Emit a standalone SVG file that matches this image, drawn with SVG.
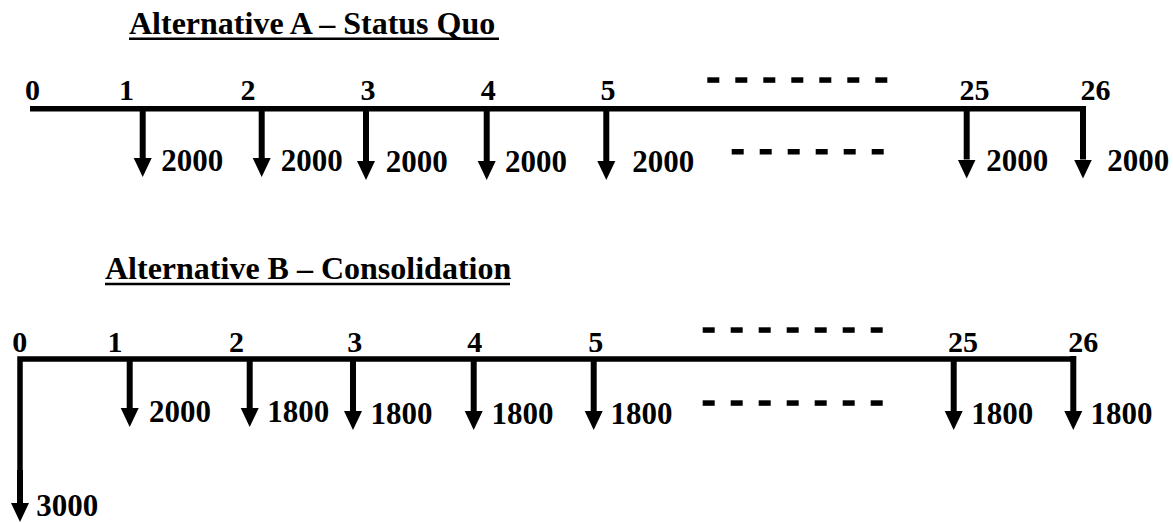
<svg xmlns="http://www.w3.org/2000/svg" width="1173" height="523" viewBox="0 0 1173 523">
  <style>
    text { font-family: "Liberation Serif", "Times New Roman", serif; font-weight: bold; fill: #000; }
    .title { font-size: 32px; }
    .tick { font-size: 30px; }
    .amt { font-size: 31px; }
    .axis { fill: none; stroke: #000; stroke-width: 5.5; stroke-linejoin: miter; }
    .drop { stroke: #000; stroke-width: 6; marker-end: url(#head); }
    .rule { stroke: #000; stroke-width: 2.6; }
    .dash { fill: #000; }
  </style>
  <defs>
    <marker id="head" markerUnits="userSpaceOnUse" markerWidth="20" markerHeight="20" viewBox="0 -10 20 20" refX="0" refY="0" orient="auto">
      <path d="M0,-9 L19,0 L0,9 Z" fill="#000"/>
    </marker>
    <rect id="d" width="12" height="5.5"/>
  </defs>

  <rect width="1173" height="523" fill="#fff"/>

  <!-- Alternative A: status quo -->
  <g id="alt-a">
    <g id="a-title">
      <text class="title" x="129" y="34">Alternative A – Status Quo</text>
      <line class="rule" x1="129" y1="38.7" x2="499" y2="38.7"/>
    </g>
    <g id="a-connectors">
      <path class="axis" d="M30,108.8 H1083 V112"/>
      <line class="drop" x1="142.7" y1="108.8" x2="142.7" y2="158"/>
      <line class="drop" x1="261.7" y1="108.8" x2="261.7" y2="158"/>
      <line class="drop" x1="366" y1="108.8" x2="366" y2="161"/>
      <line class="drop" x1="486.7" y1="108.8" x2="486.7" y2="161"/>
      <line class="drop" x1="606.3" y1="108.8" x2="606.3" y2="161"/>
      <line class="drop" x1="966.7" y1="108.8" x2="966.7" y2="159.5"/>
      <line class="drop" x1="1083" y1="106" x2="1083" y2="159.5"/>
    </g>
    <g id="a-t0"><text class="tick" x="25" y="100">0</text></g>
    <g id="a-t1"><text class="tick" x="119" y="100">1</text><text class="amt" x="161.3" y="171">2000</text></g>
    <g id="a-t2"><text class="tick" x="240.5" y="100">2</text><text class="amt" x="280.7" y="171">2000</text></g>
    <g id="a-t3"><text class="tick" x="360.5" y="100">3</text><text class="amt" x="385.7" y="172">2000</text></g>
    <g id="a-t4"><text class="tick" x="480.7" y="100">4</text><text class="amt" x="505" y="172">2000</text></g>
    <g id="a-t5"><text class="tick" x="600.5" y="100">5</text><text class="amt" x="632.3" y="172">2000</text></g>
    <g id="a-t25"><text class="tick" x="959.5" y="100">25</text><text class="amt" x="986.3" y="171">2000</text></g>
    <g id="a-t26"><text class="tick" x="1080.5" y="100">26</text><text class="amt" x="1107.3" y="171">2000</text></g>
    <g id="a-gap" class="dash">
      <use href="#d" x="707.3" y="77.3"/><use href="#d" x="735.3" y="77.3"/><use href="#d" x="763.3" y="77.3"/>
      <use href="#d" x="791.3" y="77.3"/><use href="#d" x="819.3" y="77.3"/><use href="#d" x="847.3" y="77.3"/>
      <use href="#d" x="875.3" y="77.3"/>
      <use href="#d" x="731.7" y="149"/><use href="#d" x="759.7" y="149"/><use href="#d" x="787.7" y="149"/>
      <use href="#d" x="815.7" y="149"/><use href="#d" x="843.7" y="149"/><use href="#d" x="871.7" y="149"/>
    </g>
  </g>

  <!-- Alternative B: consolidation -->
  <g id="alt-b">
    <g id="b-title">
      <text class="title" x="105" y="279.3">Alternative B – Consolidation</text>
      <line class="rule" x1="105" y1="284" x2="510" y2="284"/>
    </g>
    <g id="b-connectors">
      <path class="axis" d="M20,503 V359 H1073.3 V362"/>
      <line class="drop" x1="20" y1="470" x2="20" y2="503"/>
      <line class="drop" x1="129.7" y1="359" x2="129.7" y2="408"/>
      <line class="drop" x1="249.7" y1="359" x2="249.7" y2="408"/>
      <line class="drop" x1="353" y1="359" x2="353" y2="411"/>
      <line class="drop" x1="473.7" y1="359" x2="473.7" y2="411"/>
      <line class="drop" x1="593.7" y1="359" x2="593.7" y2="411"/>
      <line class="drop" x1="953.7" y1="359" x2="953.7" y2="411"/>
      <line class="drop" x1="1073.3" y1="356" x2="1073.3" y2="411"/>
    </g>
    <g id="b-t0"><text class="tick" x="12.3" y="351.7">0</text><text class="amt" x="36.3" y="516">3000</text></g>
    <g id="b-t1"><text class="tick" x="107.5" y="351.7">1</text><text class="amt" x="149" y="422">2000</text></g>
    <g id="b-t2"><text class="tick" x="229" y="351.7">2</text><text class="amt" x="267.3" y="422">1800</text></g>
    <g id="b-t3"><text class="tick" x="347.3" y="351.7">3</text><text class="amt" x="370.6" y="423.5">1800</text></g>
    <g id="b-t4"><text class="tick" x="467.3" y="351.7">4</text><text class="amt" x="491.6" y="423.5">1800</text></g>
    <g id="b-t5"><text class="tick" x="588.3" y="351.7">5</text><text class="amt" x="610.6" y="423.5">1800</text></g>
    <g id="b-t25"><text class="tick" x="948" y="351.7">25</text><text class="amt" x="971.3" y="423.5">1800</text></g>
    <g id="b-t26"><text class="tick" x="1068.3" y="351.7">26</text><text class="amt" x="1090.6" y="423.5">1800</text></g>
    <g id="b-gap" class="dash">
      <use href="#d" x="702.7" y="327.3"/><use href="#d" x="730.7" y="327.3"/><use href="#d" x="758.7" y="327.3"/>
      <use href="#d" x="786.7" y="327.3"/><use href="#d" x="814.7" y="327.3"/><use href="#d" x="842.7" y="327.3"/>
      <use href="#d" x="870.7" y="327.3"/>
      <use href="#d" x="702.7" y="400.3"/><use href="#d" x="730.7" y="400.3"/><use href="#d" x="758.7" y="400.3"/>
      <use href="#d" x="786.7" y="400.3"/><use href="#d" x="814.7" y="400.3"/><use href="#d" x="842.7" y="400.3"/>
      <use href="#d" x="870.7" y="400.3"/>
    </g>
  </g>
</svg>
